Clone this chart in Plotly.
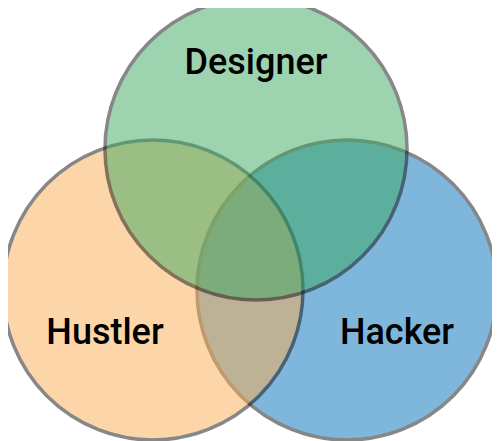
import plotly.graph_objects as go

names = ["Designer", "Hustler", "Hacker"]
cx = [256, 153, 347]
cy = [149, 290, 290]
radius = [151, 150, 150]
colors = ["rgb(61,169,97)", "rgb(251,173,83)", "rgb(1,111,185)"]
label_x = [256, 105, 397]
label_y = [65, 335, 335]
draw_order = [2, 1, 0]  # Hacker, Hustler, Designer on top

fig = go.Figure()
shapes = []
for i in draw_order:
    shapes.append(dict(type="circle", xref="x", yref="y", layer="below",
                       x0=cx[i]-radius[i], x1=cx[i]+radius[i],
                       y0=cy[i]-radius[i], y1=cy[i]+radius[i],
                       fillcolor=colors[i], opacity=0.5,
                       line=dict(color="#111", width=3.5)))
fig.add_trace(go.Scatter(x=label_x, y=label_y, mode="text", text=names,
                         textfont=dict(family="Roboto", size=36, color="black", weight=500),
                         hoverinfo="skip", cliponaxis=False))
fig.update_layout(shapes=shapes, width=492, height=433,
                  margin=dict(l=0, r=0, t=0, b=0),
                  plot_bgcolor="white", paper_bgcolor="white", showlegend=False,
                  xaxis=dict(range=[8, 500], visible=False),
                  yaxis=dict(range=[441, 8], visible=False))
fig.write_html("out.html")
